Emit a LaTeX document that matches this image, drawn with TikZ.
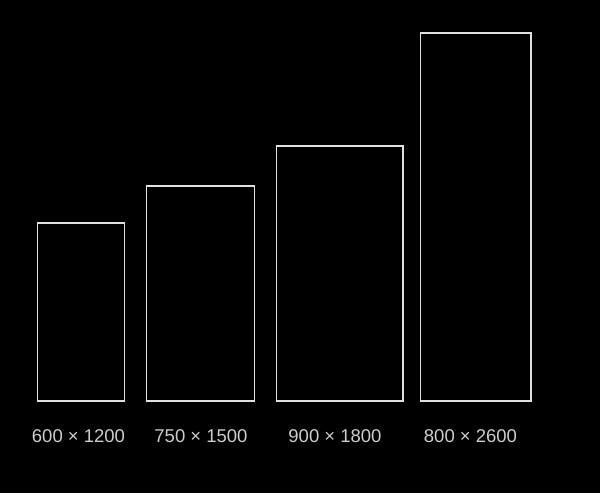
\documentclass[tikz,border=0pt]{standalone}
\usepackage{fontspec}
\setmainfont{Liberation Sans}
\usepackage{tikz}
\usetikzlibrary{positioning}
\usepackage{xcolor}
\definecolor{framegrey}{RGB}{224,224,224}
\definecolor{labelgrey}{RGB}{205,205,205}

\begin{document}
\begin{tikzpicture}[x=1pt, y=-1pt]
    \tikzset{
        frame/.style={draw=framegrey, line width=1.6pt, inner sep=0pt, anchor=south west},
        sizelabel/.style={text=labelgrey, font=\fontsize{18.5}{22}\selectfont, inner sep=0pt}
    }
    % background
    \fill[black] (0,0) rectangle (600,493);
    \useasboundingbox (0,0) rectangle (600,493);

    % frames, bottom aligned
    \node[frame, minimum width=87pt, minimum height=178pt] (r600) at (36.5,402) {};
    \node[frame, minimum width=108pt, minimum height=215pt] (r750) at (145.5,402) {};
    \node[frame, minimum width=126.5pt, minimum height=255.5pt] (r900) at (275.5,402) {};
    \node[frame, minimum width=110.5pt, minimum height=368.5pt] (r800) at (419.5,402) {};

    % sizes
    \node[sizelabel] (l600) at (78.5,436) {600 × 1200};
    \node[sizelabel] (l750) at (201,436) {750 × 1500};
    \node[sizelabel] (l900) at (335,436) {900 × 1800};
    \node[sizelabel] (l800) at (470.5,436) {800 × 2600};
\end{tikzpicture}
\end{document}
